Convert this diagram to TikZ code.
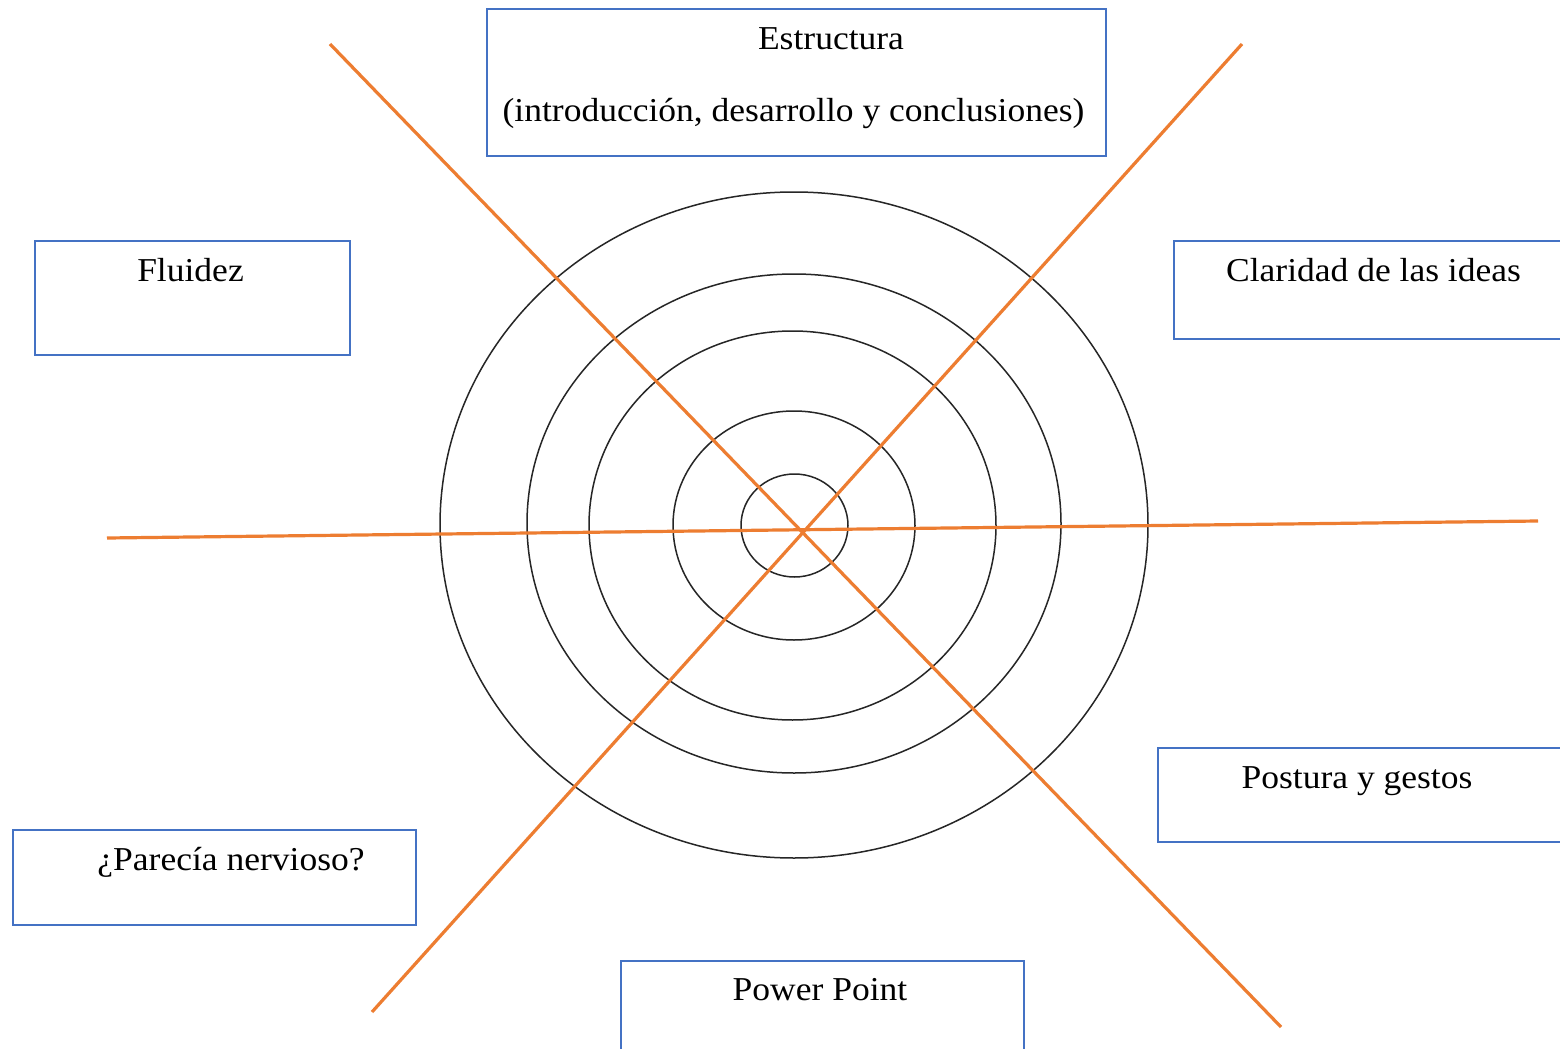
\documentclass[tikz,border=0pt]{standalone}
\usepackage{fontspec}
\setmainfont{Liberation Serif}
\usetikzlibrary{shapes.geometric}
\definecolor{boxblue}{HTML}{4472C4}
\definecolor{lineorange}{HTML}{ED7D31}
\newcommand\widetext[1]{\scalebox{1.063}[1]{#1}}
\tikzset{
  labelbox/.style={draw=boxblue, line width=0.8pt, inner sep=0pt, fill=none},
  labeltext/.style={anchor=base, inner sep=0pt, font=\fontsize{16.7}{20}\selectfont},
  ring/.style={draw=black!85, line width=0.75pt},
  spoke/.style={draw=lineorange, line width=1.6pt}
}
\begin{document}
\begin{tikzpicture}[x=0.5pt,y=-0.5pt]
\clip (0,0) rectangle (1560,1049);
\fill[white] (0,0) rectangle (1560,1049);

% rings
\node[ring, ellipse, inner sep=0pt, minimum width=354pt, minimum height=333pt] (r1) at (794,525) {};
\node[ring, ellipse, inner sep=0pt, minimum width=267pt, minimum height=249.5pt] (r2) at (794,523.5) {};
\node[ring, ellipse, inner sep=0pt, minimum width=203.5pt, minimum height=194.5pt] (r3) at (792.5,525.5) {};
\node[ring, ellipse, inner sep=0pt, minimum width=121pt, minimum height=114.5pt] (r4) at (794,525.5) {};
\node[ring, ellipse, inner sep=0pt, minimum width=53.5pt, minimum height=51.5pt] (r5) at (794.5,525.5) {};

% spokes
\coordinate (d1a) at (330,44);
\coordinate (d1b) at (1281,1027);
\coordinate (d2a) at (1242,44);
\coordinate (d2b) at (372,1012);
\coordinate (ha) at (107,538);
\coordinate (hb) at (1538,521);
\draw[spoke] (d1a) -- (d1b);
\draw[spoke] (d2a) -- (d2b);
\draw[spoke] (ha) -- (hb);

% boxes
\node[labelbox, minimum width=309.5pt, minimum height=73.5pt] (bE) at (796.5,82.5) {};
\node[labelbox, minimum width=157.5pt, minimum height=57pt] (bF) at (192.5,298) {};
\node[labelbox, minimum width=213pt, minimum height=49pt] (bC) at (1387,290) {};
\node[labelbox, minimum width=221pt, minimum height=47pt] (bP) at (1379,795) {};
\node[labelbox, minimum width=201.5pt, minimum height=47.5pt] (bN) at (214.5,877.5) {};
\node[labelbox, minimum width=201.5pt, minimum height=69.5pt] (bW) at (822.5,1030.5) {};

% texts
\node[labeltext] (tE1) at (831,49) {\widetext{Estructura}};
\node[labeltext] (tE2) at (793.5,121) {\widetext{(introducción, desarrollo y conclusiones)}};
\node[labeltext] (tF) at (190.5,281) {\widetext{Fluidez}};
\node[labeltext] (tC) at (1373.5,281) {\widetext{Claridad de las ideas}};
\node[labeltext] (tP) at (1357,788) {\widetext{Postura y gestos}};
\node[labeltext] (tN) at (231,870) {\widetext{¿Parecía nervioso?}};
\node[labeltext] (tW) at (820,1000) {\widetext{Power Point}};
\end{tikzpicture}
\end{document}
